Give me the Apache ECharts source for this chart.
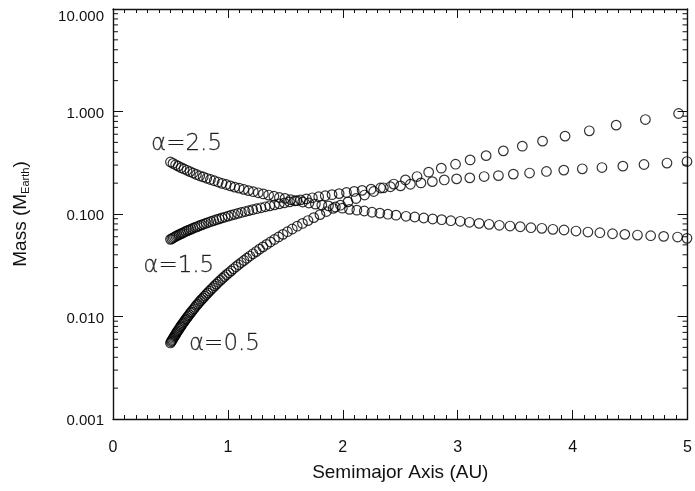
<!DOCTYPE html>
<html><head><meta charset="utf-8">
<script src="https://cdn.jsdelivr.net/npm/echarts@6/dist/echarts.min.js"></script>
<style>html,body{margin:0;padding:0;background:#fff}#c{width:695px;height:491px}</style>
</head><body><div id="c"></div><script>
// ---- data ----
const xTicks = [0, 1, 2, 3, 4, 5];
const yTicks = [0.001, 0.01, 0.1, 1, 10];

// alpha = 0.5
const a05 = [0.500,0.506,0.512,0.518,0.524,0.531,0.537,0.544,0.550,0.557,
0.564,0.572,0.579,0.587,0.594,0.602,0.610,0.619,0.627,0.636,
0.645,0.654,0.663,0.673,0.683,0.693,0.704,0.714,0.725,0.737,
0.748,0.760,0.772,0.785,0.798,0.811,0.825,0.839,0.854,0.869,
0.884,0.900,0.916,0.934,0.951,0.969,0.988,1.008,1.028,1.048,
1.070,1.092,1.116,1.140,1.165,1.191,1.218,1.246,1.275,1.305,
1.337,1.370,1.405,1.441,1.479,1.518,1.560,1.603,1.649,1.697,
1.747,1.801,1.857,1.916,1.979,2.045,2.115,2.189,2.269,2.353,
2.443,2.545,2.646,2.747,2.857,2.981,3.108,3.247,3.397,3.562,
3.738,3.934,4.145,4.379,4.633,4.922];
const m05 = [0.00552,0.00567,0.00582,0.00597,0.00614,0.00631,0.00648,0.00666,0.00685,0.00705,
0.00725,0.00746,0.00768,0.00791,0.00815,0.00839,0.00865,0.00892,0.00919,0.00948,
0.00979,0.0101,0.0104,0.0108,0.0111,0.0115,0.0119,0.0123,0.0128,0.0132,
0.0137,0.0142,0.0147,0.0152,0.0158,0.0164,0.0170,0.0177,0.0184,0.0191,
0.0199,0.0207,0.0216,0.0225,0.0235,0.0245,0.0256,0.0267,0.0279,0.0292,
0.0306,0.0320,0.0336,0.0352,0.0370,0.0389,0.0409,0.0430,0.0454,0.0478,
0.0505,0.0533,0.0564,0.0597,0.0633,0.0672,0.0714,0.0760,0.0809,0.0863,
0.0922,0.0986,0.1057,0.1134,0.1219,0.1313,0.1417,0.1531,0.1658,0.1801,
0.1959,0.215,0.232,0.256,0.280,0.306,0.337,0.371,0.413,0.459,
0.514,0.575,0.648,0.736,0.835,0.956];

// alpha = 1.5
const a15 = [0.500,0.512,0.524,0.536,0.548,0.561,0.575,0.589,0.603,0.617,
0.632,0.648,0.664,0.680,0.697,0.715,0.733,0.752,0.771,0.791,
0.811,0.833,0.854,0.877,0.900,0.924,0.949,0.975,1.002,1.029,
1.058,1.087,1.118,1.150,1.182,1.216,1.251,1.288,1.325,1.364,
1.405,1.447,1.491,1.536,1.583,1.632,1.683,1.735,1.790,1.847,
1.906,1.968,2.032,2.099,2.168,2.246,2.328,2.414,2.502,2.588,
2.680,2.779,2.883,2.990,3.105,3.230,3.354,3.484,3.625,3.772,
3.923,4.084,4.255,4.437,4.621,4.821,4.995];
const m15 = [0.0566,0.0576,0.0586,0.0596,0.0607,0.0617,0.0628,0.0640,0.0651,0.0663,
0.0675,0.0688,0.0700,0.0713,0.0726,0.0740,0.0754,0.0768,0.0783,0.0798,
0.0814,0.0830,0.0846,0.0863,0.0880,0.0897,0.0916,0.0934,0.0953,0.0973,
0.0993,0.1014,0.1035,0.1057,0.1079,0.1102,0.1126,0.1150,0.1176,0.1202,
0.1228,0.1256,0.1284,0.1314,0.1343,0.1374,0.1406,0.1439,0.1473,0.1508,
0.1544,0.1581,0.1620,0.1660,0.1701,0.1746,0.1794,0.1844,0.188,0.195,
0.201,0.207,0.215,0.220,0.225,0.232,0.237,0.245,0.251,0.260,
0.268,0.276,0.284,0.293,0.304,0.314,0.325];

// alpha = 2.5
const a25 = [0.500,0.522,0.545,0.568,0.593,0.618,0.644,0.670,0.698,0.726,
0.755,0.785,0.816,0.848,0.881,0.915,0.949,0.985,1.022,1.059,
1.098,1.138,1.179,1.221,1.264,1.308,1.354,1.400,1.448,1.497,
1.547,1.599,1.651,1.705,1.761,1.817,1.875,1.935,1.996,2.058,
2.122,2.187,2.254,2.322,2.392,2.463,2.550,2.626,2.704,2.782,
2.860,2.940,3.022,3.102,3.186,3.273,3.362,3.455,3.544,3.637,
3.732,3.828,3.925,4.029,4.133,4.237,4.347,4.454,4.564,4.679,
4.792,4.913,4.995];
const m25 = [0.322,0.312,0.302,0.293,0.283,0.275,0.267,0.259,0.251,0.243,
0.236,0.230,0.223,0.217,0.211,0.205,0.199,0.194,0.188,0.183,
0.179,0.174,0.169,0.165,0.161,0.157,0.153,0.149,0.145,0.142,
0.138,0.135,0.131,0.128,0.125,0.122,0.120,0.117,0.114,0.111,
0.109,0.107,0.104,0.102,0.0995,0.0974,0.0950,0.0935,0.0914,0.0894,
0.0880,0.0860,0.0849,0.0830,0.0811,0.0793,0.0776,0.0763,0.0751,0.0735,
0.0725,0.0709,0.0698,0.0682,0.0667,0.0657,0.0642,0.0633,0.0623,0.0614,
0.0605,0.0596,0.0579];

// curve annotations
const labelText = ['α=2.5', 'α=1.5', 'α=0.5'];
const labelX = [0.64, 0.572, 0.97];
const labelY = [0.48, 0.031, 0.00535];

// ---- chart ----
const chart = echarts.init(document.getElementById('c'));
const zip = (xs, ys) => xs.map((x, i) => [x, ys[i]]);
const FONT = '"Liberation Sans", Helvetica, Arial, sans-serif';
const INK = '#111';

function circles(name, xs, ys) {
  return {
    type: 'scatter', name, data: zip(xs, ys),
    symbol: 'circle', symbolSize: 9.6, clip: true, silent: true,
    itemStyle: { color: 'rgba(0,0,0,0)', borderColor: '#000', borderWidth: 1.2 }
  };
}
const lineStyle = { color: INK, width: 1.4 };
const tickStyle = { color: INK, width: 1 };
const topVal = yTicks[yTicks.length - 1];

const option = {
  animation: false,
  grid: { left: 113, right: 5, top: 9, bottom: 72 },
  xAxis: [
    { type: 'value', min: xTicks[0], max: xTicks[xTicks.length - 1], interval: 1, position: 'bottom',
      axisLine: { show: true, onZero: false, lineStyle },
      axisTick: { show: true, inside: true, length: 9, lineStyle: tickStyle },
      minorTick: { show: true, splitNumber: 10, length: 4, lineStyle: tickStyle },
      splitLine: { show: false },
      axisLabel: { margin: 21, fontSize: 16, color: INK, fontFamily: FONT },
      name: 'Semimajor Axis (AU)', nameLocation: 'middle', nameGap: 44,
      nameTextStyle: { fontSize: 19, color: INK, fontFamily: FONT } },
    { type: 'value', min: xTicks[0], max: xTicks[xTicks.length - 1], interval: 1, position: 'top',
      axisLine: { show: true, onZero: false, lineStyle },
      axisTick: { show: true, inside: true, length: 9, lineStyle: tickStyle },
      minorTick: { show: true, splitNumber: 10, length: 4, lineStyle: tickStyle },
      splitLine: { show: false }, axisLabel: { show: false } }
  ],
  yAxis: [
    { type: 'log', logBase: 10, min: yTicks[0], max: topVal, position: 'left',
      axisLine: { show: true, onZero: false, lineStyle },
      axisTick: { show: true, inside: true, length: 10, lineStyle: tickStyle },
      minorTick: { show: false }, splitLine: { show: false },
      axisLabel: { margin: 9, fontSize: 15, color: INK, fontFamily: FONT,
        formatter: v => (Math.abs(v - topVal) < 1e-6 ? '{top|' + Number(v).toFixed(3) + '}' : '{n|' + Number(v).toFixed(3) + '}'),
        rich: { top: { fontSize: 15, color: INK, fontFamily: FONT, padding: [16, 0, 0, 0] },
                n: { fontSize: 15, color: INK, fontFamily: FONT, padding: [4, 0, 0, 0] } } },
      name: 'Mass (M{sub|Earth})', nameLocation: 'middle', nameGap: 82, nameRotate: 90,
      nameTextStyle: { fontSize: 19, color: INK, fontFamily: FONT,
        rich: { sub: { fontSize: 11, color: INK, fontFamily: FONT, padding: [10, 0, 0, 0] } } } },
    { type: 'log', logBase: 10, min: yTicks[0], max: topVal, position: 'right',
      axisLine: { show: true, onZero: false, lineStyle },
      axisTick: { show: true, inside: true, length: 10, lineStyle: tickStyle },
      minorTick: { show: false }, splitLine: { show: false }, axisLabel: { show: false } }
  ],
  series: [
    circles('α=0.5', a05, m05),
    circles('α=1.5', a15, m15),
    circles('α=2.5', a25, m25),
    { type: 'scatter', symbolSize: 0, silent: true,
      data: labelText.map((t, i) => ({ name: t, value: [labelX[i], labelY[i]] })),
      label: { show: true, position: 'inside', formatter: p => p.name,
        fontSize: 23, color: '#000', fontFamily: '"DejaVu Sans", sans-serif', fontWeight: 200,
        textBorderColor: '#000', textBorderWidth: 0.3 } }
  ]
};
chart.setOption(option);

// log-axis minor ticks (2..9 within each decade), drawn on left and right frames
const gr = chart.getModel().getComponent('grid').coordinateSystem.getRect();
const minor = [];
for (let k = -3; k < 1; k++) {
  for (let j = 2; j <= 9; j++) {
    const v = j * Math.pow(10, k);
    const py = chart.convertToPixel({ yAxisIndex: 0 }, v);
    minor.push({ type: 'line', silent: true, shape: { x1: gr.x, y1: py, x2: gr.x + 5, y2: py }, style: { stroke: INK, lineWidth: 1 } });
    minor.push({ type: 'line', silent: true, shape: { x1: gr.x + gr.width - 5, y1: py, x2: gr.x + gr.width, y2: py }, style: { stroke: INK, lineWidth: 1 } });
  }
}
chart.setOption({ graphic: minor });
</script></body></html>
